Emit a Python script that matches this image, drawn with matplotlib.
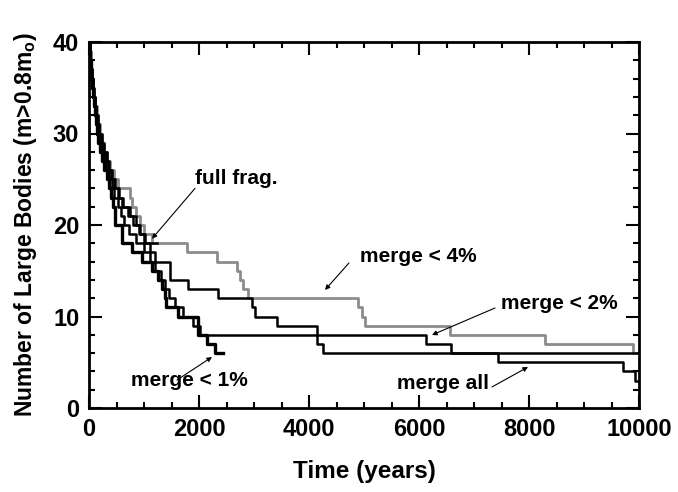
import numpy as np
import matplotlib
matplotlib.use("Agg")
import matplotlib.pyplot as plt
from matplotlib.ticker import MultipleLocator

plt.rcParams.update({
    "font.family": ["Liberation Sans", "DejaVu Sans"],
    "font.weight": "bold",
    "mathtext.fontset": "custom",
    "mathtext.rm": "Liberation Sans:bold",
    "mathtext.bf": "Liberation Sans:bold",
})

# ---- step data: time (years) where the count changes, and the count ----
t_full = [0, 10, 25, 40, 55, 70, 90, 110, 135, 160, 190, 230, 270, 320, 370,
          420, 480, 540, 620, 750, 850, 930, 1020, 1240]
n_full = [40, 39, 38, 37, 36, 35, 34, 33, 32, 31, 30, 29, 28, 27, 26,
          25, 24, 23, 22, 21, 20, 19, 18, 18]

t_m1 = [0, 8, 18, 30, 42, 55, 70, 85, 100, 120, 140, 170, 200, 240, 280,
        320, 360, 400, 430, 470, 600, 780, 960, 1145, 1250, 1330, 1380,
        1400, 1620, 1980, 2150, 2290, 2440]
n_m1 = [40, 39, 38, 37, 36, 35, 34, 33, 32, 31, 30, 29, 28, 27, 26,
        25, 24, 23, 22, 20, 18, 17, 16, 15, 14, 13, 12,
        11, 10, 8, 7, 6, 6]

t_m2 = [0, 10, 20, 32, 45, 60, 75, 95, 115, 135, 160, 190, 230, 270, 310,
        360, 410, 460, 520, 580, 640, 720, 850, 1000, 1100, 1200, 1300,
        1380, 1450, 1560, 1700, 1890, 2020, 6130, 6580, 10000]
n_m2 = [40, 39, 38, 37, 36, 35, 34, 33, 32, 31, 30, 29, 28, 27, 26,
        25, 24, 23, 22, 21, 20, 19, 18, 17, 16, 15, 14,
        13, 12, 11, 10, 9, 8, 7, 6, 6]

t_m4 = [0, 15, 30, 45, 60, 78, 95, 115, 140, 165, 195, 235, 280, 330, 390,
        450, 530, 745, 790, 860, 930, 1000, 1150, 1780, 2330, 2690, 2745,
        2800, 2890, 4890, 4960, 5020, 6560, 8290, 9890, 10000]
n_m4 = [40, 39, 38, 37, 36, 35, 34, 33, 32, 31, 30, 29, 28, 27, 26,
        25, 24, 23, 22, 21, 20, 19, 18, 17, 16, 15, 14,
        13, 12, 11, 10, 9, 8, 7, 6, 6]

t_all = [0, 12, 25, 38, 50, 65, 80, 100, 125, 150, 180, 215, 255, 300, 350,
         400, 450, 520, 600, 700, 800, 900, 1000, 1100, 1200, 1470, 1800,
         2340, 2960, 3020, 3420, 4150, 4250, 7440, 9710, 9930, 10000]
n_all = [40, 39, 38, 37, 36, 35, 34, 33, 32, 31, 30, 29, 28, 27, 26,
         25, 24, 23, 22, 21, 20, 19, 18, 17, 16, 14, 13,
         12, 11, 10, 9, 7, 6, 5, 4, 3, 3]

fig = plt.figure(figsize=(6.78, 4.92), dpi=100)
ax = fig.add_axes([89 / 678, 1 - 408 / 492, 550 / 678, 366 / 492])

ax.step(t_m4, n_m4, where="post", color="#8c8c8c", lw=2.0)
ax.step(t_m2, n_m2, where="post", color="black", lw=1.8)
ax.step(t_all, n_all, where="post", color="black", lw=1.8)
ax.step(t_full, n_full, where="post", color="black", lw=1.8)
ax.step(t_m1, n_m1, where="post", color="black", lw=2.4)

ax.set_xlim(0, 10000)
ax.set_ylim(0, 40)
ax.xaxis.set_major_locator(MultipleLocator(2000))
ax.xaxis.set_minor_locator(MultipleLocator(500))
ax.yaxis.set_major_locator(MultipleLocator(10))
ax.yaxis.set_minor_locator(MultipleLocator(2))
ax.tick_params(which="both", direction="in", top=True, right=True,
               width=1.5, color="black")
ax.tick_params(which="major", length=9.5, labelsize=17, pad=7)
ax.tick_params(which="minor", length=4.5)
for s in ax.spines.values():
    s.set_linewidth(2.0)

ax.set_xlabel("Time (years)", fontsize=17.5, fontweight="bold", labelpad=14)
ax.set_ylabel(r"Number of Large Bodies (m>0.8m$_\mathbf{o}$)", fontsize=16.5,
              fontweight="bold", labelpad=10)

arrow = dict(arrowstyle="-|>", lw=0.8, color="black", mutation_scale=7,
             shrinkA=0, shrinkB=0)
lab = dict(fontsize=15, fontweight="bold", ha="left", va="baseline")

ax.text(1927, 24.5, "full frag.", **lab)
ax.annotate("", xy=(1145, 18.5), xytext=(1927, 24.0), arrowprops=arrow)

ax.text(4927, 15.96, "merge < 4%", **lab)
ax.annotate("", xy=(4291, 12.9), xytext=(4727, 15.85), arrowprops=arrow)

ax.text(7491, 10.82, "merge < 2%", **lab)
ax.annotate("", xy=(6236, 7.98), xytext=(7382, 10.93), arrowprops=arrow)

ax.text(764, 2.4, "merge < 1%", **lab)
ax.annotate("", xy=(2236, 5.57), xytext=(1600, 3.06), arrowprops=arrow)

ax.text(5600, 2.08, "merge all", **lab)
ax.annotate("", xy=(7982, 4.48), xytext=(7327, 2.3), arrowprops=arrow)

fig.savefig("out.png", dpi=100, facecolor="white")
